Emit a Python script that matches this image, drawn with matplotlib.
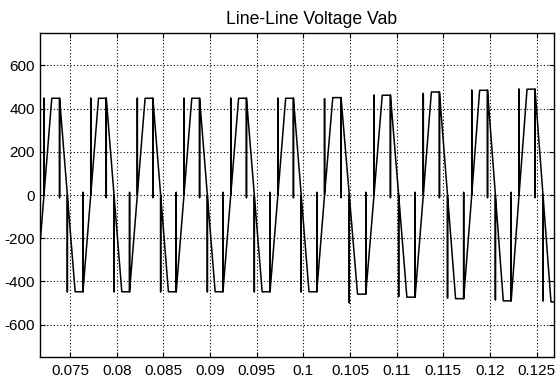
import matplotlib
matplotlib.use("Agg")
import matplotlib.pyplot as plt

plt.rcParams['font.family'] = ['Liberation Sans', 'DejaVu Sans']
plt.rcParams['axes.unicode_minus'] = False

# rising zero crossing of each cycle (s); last one only closes cycle 10
cycle_t = [0.07221, 0.07722, 0.08221, 0.08721, 0.09222, 0.09727, 0.10227,
           0.10757, 0.11285, 0.11804, 0.12311, 0.12824]
# plateau levels per cycle
top_v = [448, 448, 448, 448, 448, 448, 451, 462, 477, 485, 490]
bot_v = [-448, -448, -448, -448, -448, -448, -459, -473, -480, -490, -495]
# ends of the vertical spikes at the zero crossings
rise_spike = [448, 448, 448, 448, 448, 448, 446, 462, 470, 485, 490]
fall_spike = [-448, -448, -448, -448, -448, -448, -499, -470, -477, -485, -490]

xticks = [0.075, 0.08, 0.085, 0.09, 0.095, 0.1, 0.105, 0.11, 0.115, 0.12, 0.125]
xlabels = ["0.075", "0.08", "0.085", "0.09", "0.095", "0.1", "0.105", "0.11",
           "0.115", "0.12", "0.125"]
yticks = [-600, -400, -200, 0, 200, 400, 600]

# build the waveform: trapezoid (rise, top, fall, bottom) with switching spikes
t = []
v = []
s0 = (cycle_t[1] - cycle_t[0]) / 6
t.append(cycle_t[0] - s0)
v.append(bot_v[0])
for k in range(len(cycle_t) - 1):
    c = cycle_t[k]
    s = (cycle_t[k + 1] - c) / 6
    hi = top_v[k]
    lo = bot_v[k]
    seg = [
        (c, 0), (c, rise_spike[k]), (c, 0),
        (c + s, hi), (c + 2 * s, hi), (c + 2 * s, -12), (c + 2 * s, hi),
        (c + 3 * s, 0), (c + 3 * s, fall_spike[k]), (c + 3 * s, 0),
        (c + 4 * s, lo), (c + 5 * s, lo), (c + 5 * s, 12), (c + 5 * s, lo),
    ]
    for a, b in seg:
        t.append(a)
        v.append(b)
t.append(cycle_t[-1])
v.append(0)

fig = plt.figure(figsize=(5.59, 3.78), dpi=100)
ax = fig.add_axes([0.071, 0.0556, 0.92, 0.857])

ax.plot(t, v, color="black", linewidth=1.1)

ax.set_xlim(0.07175, 0.12685)
ax.set_ylim(-750, 750)
ax.set_xticks(xticks)
ax.set_xticklabels(xlabels)
ax.set_yticks(yticks)
ax.set_yticklabels([str(y) for y in yticks])

ax.grid(True, color="black", linestyle=(0, (1, 2)), linewidth=0.8)
ax.tick_params(direction="in", length=3.6, width=0.8, labelsize=11,
               top=True, right=True, pad=3.4)
ax.tick_params(axis="x", pad=5)
for sp in ax.spines.values():
    sp.set_linewidth(1.0)

# title sits a bit right of the axes centre in the original
fig.text(312 / 559, 1 - 24 / 378, "Line-Line Voltage Vab", fontsize=12.7,
         ha="center", va="baseline")

fig.savefig("out.png", dpi=100)
